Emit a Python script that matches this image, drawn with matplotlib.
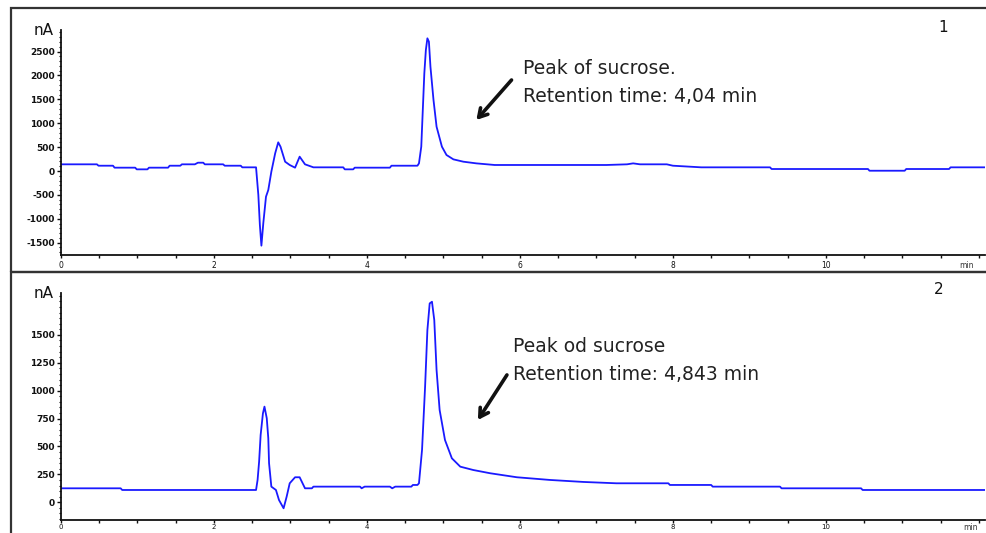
import matplotlib
matplotlib.use("Agg")
import matplotlib.pyplot as plt
from matplotlib.patches import Rectangle
from matplotlib.ticker import MultipleLocator

# ---------------- data ----------------
time_1 = [0, 0.47, 0.49, 0.68, 0.70,
          0.97, 0.99, 1.13, 1.15, 1.40,
          1.42, 1.56, 1.58, 1.75, 1.79,
          1.86, 1.88, 2.12, 2.14, 2.35,
          2.37, 2.55, 2.58, 2.60, 2.62,
          2.645, 2.68, 2.71, 2.75, 2.80,
          2.84, 2.87, 2.93, 2.99, 3.06,
          3.12, 3.19, 3.30, 3.69, 3.71,
          3.82, 3.84, 4.30, 4.32, 4.66,
          4.68, 4.71, 4.73, 4.75, 4.77,
          4.79, 4.81, 4.83, 4.87, 4.91,
          4.98, 5.04, 5.13, 5.26, 5.43,
          5.67, 7.13, 7.40, 7.48, 7.57,
          7.92, 8.00, 8.37, 9.27, 9.29,
          10.55, 10.57, 11.03, 11.05, 11.61,
          11.63, 12.08]
signal_1 = [140, 140, 111, 111, 70,
            70, 35, 35, 70, 70,
            111, 111, 140, 140, 174,
            174, 140, 140, 111, 111,
            77, 77, -502, -1130, -1562,
            -1088, -537, -397, -14, 370,
            600, 508, 195, 126, 70,
            300, 140, 77, 77, 35,
            35, 70, 70, 111, 111,
            160, 509, 1276, 2044, 2531,
            2776, 2705, 2182, 1485, 927,
            509, 335, 244, 195, 160,
            126, 126, 140, 160, 140,
            140, 111, 77, 77, 42,
            42, 6, 6, 42, 42,
            77, 77]

time_2 = [0, 0.78, 0.80, 2.55,
          2.57, 2.59, 2.61, 2.64, 2.66,
          2.69, 2.71, 2.72, 2.75, 2.81,
          2.85, 2.91, 2.95, 2.99, 3.06,
          3.12, 3.19, 3.28, 3.30, 3.49,
          3.51, 3.91, 3.93, 3.97, 4.30,
          4.33, 4.37, 4.58, 4.60, 4.66,
          4.68, 4.72, 4.76, 4.79, 4.82,
          4.85, 4.88, 4.91, 4.95, 5.02,
          5.11, 5.22, 5.39, 5.61, 5.96,
          6.39, 6.83, 7.26, 7.94, 7.96,
          8.50, 8.52, 9.40, 9.42, 10.46,
          10.48, 12.08]
signal_2 = [125, 125, 110, 110,
            200, 364, 603, 797, 857,
            753, 574, 350, 140, 110,
            20, -54, 50, 170, 224,
            224, 125, 125, 140, 140,
            140, 140, 125, 140, 140,
            125, 140, 140, 155, 155,
            170, 469, 1036, 1543, 1782,
            1797, 1633, 1185, 827, 558,
            394, 319, 289, 260, 224,
            200, 182, 170, 170, 155,
            155, 140, 140, 125, 125,
            110, 110]

x_ticks = [0, 2, 4, 6, 8, 10]
y_ticks_1 = [-1500, -1000, -500, 0, 500, 1000, 1500, 2000, 2500]
y_ticks_2 = [0, 250, 500, 750, 1000, 1250, 1500]
panel_labels = ["1", "2"]
notes_1 = ["Peak of sucrose.", "Retention time: 4,04 min"]
notes_2 = ["Peak od sucrose", "Retention time: 4,843 min"]

# ---------------- figure ----------------
W, H = 986, 533
fig = plt.figure(figsize=(W / 100, H / 100), dpi=100)
fig.patch.set_facecolor("white")


def fx(px):
    return px / W


def fy(py):
    return 1 - py / H


# panel frames
frame_kw = dict(transform=fig.transFigure, fill=False, edgecolor="#333333",
                linewidth=1.6, clip_on=False)
fig.patches.append(Rectangle((fx(11), fy(272)), 1.2, fy(8) - fy(272), **frame_kw))
fig.patches.append(Rectangle((fx(11), fy(560)), 1.2, fy(272) - fy(560), **frame_kw))

line_color = "#1a1aff"
ann_font = dict(family="DejaVu Sans", fontsize=13.5, color="#222222")


def setup_axes(ax, yticks, ylim, minor, xpad, xsize):
    ax.set_xlim(0, 12.08)
    ax.set_ylim(*ylim)
    for s in ("top", "right"):
        ax.spines[s].set_visible(False)
    for s in ("left", "bottom"):
        ax.spines[s].set_linewidth(1.3)
        ax.spines[s].set_color("#111111")
    ax.set_xticks(x_ticks)
    ax.set_xticklabels([str(t) for t in x_ticks])
    ax.xaxis.set_minor_locator(MultipleLocator(0.5))
    ax.set_yticks(yticks)
    ax.set_yticklabels([str(t) for t in yticks], fontweight="bold")
    ax.yaxis.set_minor_locator(MultipleLocator(minor))
    ax.tick_params(axis="x", which="major", length=2.5, width=1, labelsize=xsize,
                   pad=xpad, colors="#111111")
    ax.tick_params(axis="x", which="minor", length=2, width=1, colors="#111111")
    ax.tick_params(axis="y", which="major", length=3, width=1, labelsize=6.5,
                   pad=1.5, colors="#111111")
    ax.tick_params(axis="y", which="minor", length=1.5, width=0.8, colors="#111111")
    ax.set_facecolor("none")


# top panel
ax1 = fig.add_axes([fx(61), fy(255), fx(985) - fx(61), fy(30) - fy(255)])
setup_axes(ax1, y_ticks_1, (-1757, 2950), 100, 2, 5.5)
ax1.plot(time_1, signal_1, color=line_color, lw=1.3)

# bottom panel
ax2 = fig.add_axes([fx(61), fy(520), fx(985) - fx(61), fy(292.7) - fy(520)])
setup_axes(ax2, y_ticks_2, (-159, 1878), 50, 0.5, 5)
ax2.plot(time_2, signal_2, color=line_color, lw=1.3)

# unit labels
for ybase in (35, 298):
    fig.text(fx(54), fy(ybase), "nA", ha="right", va="baseline", fontsize=11,
             color="#111111")
fig.text(fx(966), fy(266), "min", ha="center", va="center", fontsize=5.5,
         color="#333333")
fig.text(fx(971), fy(527), "min", ha="center", va="center", fontsize=5.5,
         color="#333333")

# panel numbers
fig.text(fx(943), fy(27), panel_labels[0], ha="center", va="center",
         fontsize=11, color="#111111")
fig.text(fx(939), fy(290), panel_labels[1], ha="center", va="center",
         fontsize=11, color="#111111")

# annotations
fig.text(fx(523), fy(74), notes_1[0], ha="left", va="baseline", **ann_font)
fig.text(fx(523), fy(102), notes_1[1], ha="left", va="baseline", **ann_font)
fig.text(fx(513), fy(352), notes_2[0], ha="left", va="baseline", **ann_font)
fig.text(fx(513), fy(380), notes_2[1], ha="left", va="baseline", **ann_font)

arrow_kw = dict(arrowstyle="->,head_length=0.6,head_width=0.35", lw=2.6,
                color="#111111", shrinkA=0, shrinkB=0)
ax1.annotate("", xy=(5.43, 1067), xytext=(5.89, 1904), arrowprops=arrow_kw)
ax2.annotate("", xy=(5.45, 737), xytext=(5.83, 1141), arrowprops=arrow_kw)

fig.savefig("out.png", dpi=100, facecolor="white")
